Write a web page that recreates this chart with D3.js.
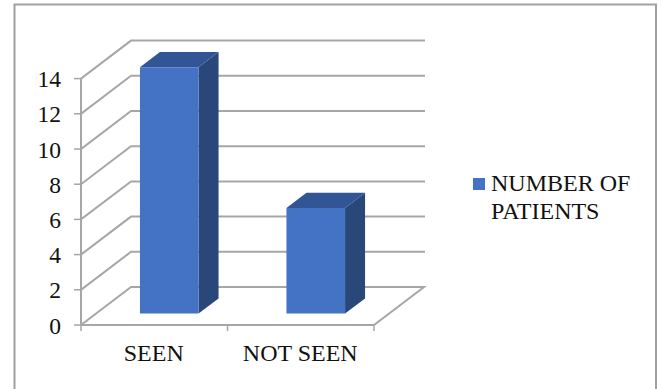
<!DOCTYPE html>
<html>
<head>
<meta charset="utf-8">
<script src="https://cdn.jsdelivr.net/npm/d3@7"></script>
<style>
html,body{margin:0;padding:0;background:#fff}
svg{display:block}
text{font-family:"Liberation Serif",serif;fill:#111}
</style>
</head>
<body>
<div id="chart"></div>
<script>
const categories = ["SEEN", "NOT SEEN"];
const patients = [14, 6];
const yTicks = [0, 2, 4, 6, 8, 10, 12, 14];
const seriesName = ["NUMBER OF", "PATIENTS"];

const width = 661, height = 389;
const svg = d3.select("#chart").append("svg").attr("width", width).attr("height", height);

// Chart frame, open at the lower edge of the page
svg.append("path")
  .attr("d", "M14.5,389V4.5H656V389")
  .attr("fill", "none").attr("stroke", "#a0a0a0").attr("stroke-width", 2);

const x = d3.scaleBand().domain(categories).range([81, 374]).paddingInner(0).paddingOuter(0);
const y = d3.scaleLinear().domain([0, 14]).range([325, 78.6]);

// Oblique projection of the depth axis: z runs 0 (front) to 1 (back wall)
const depthX = d3.scaleLinear().domain([0, 1]).range([0, 50]);
const depthY = d3.scaleLinear().domain([0, 1]).range([0, -38]);
const project = (px, value, z) => [px + depthX(z), y(value) + depthY(z)];
const line = d3.line();
const grid = "#a6a6a6";

// Floor outline
const [x0, x1] = x.range();
svg.append("path")
  .attr("d", line([project(x0, 0, 0), project(x0, 0, 1), project(x1, 0, 1), project(x1, 0, 0), project(x0, 0, 0)]))
  .attr("fill", "none").attr("stroke", grid).attr("stroke-width", 2);

// Gridlines wrapping the side wall and the back wall
svg.append("g").selectAll("path").data(yTicks.slice(1)).join("path")
  .attr("d", v => line([project(x0, v, 0), project(x0, v, 1), project(x1, v, 1)]))
  .attr("fill", "none").attr("stroke", grid).attr("stroke-width", 2).attr("stroke-linecap", "square");

// Value axis
const yAxis = svg.append("g");
yAxis.append("path")
  .attr("d", line([[x0, y(0)], [x0, y(14)]]))
  .attr("stroke", grid).attr("stroke-width", 2);
yAxis.selectAll("line").data(yTicks).join("line")
  .attr("x1", x0 - 7).attr("x2", x0)
  .attr("y1", d => y(d)).attr("y2", d => y(d))
  .attr("stroke", grid).attr("stroke-width", 1.5);
yAxis.selectAll("text").data(yTicks).join("text")
  .attr("x", 61).attr("y", d => y(d) + 8.5)
  .attr("text-anchor", "end").attr("font-size", 23.5)
  .text(d => d);

// Category axis
const xAxis = svg.append("g");
xAxis.selectAll("line").data([x0, x0 + x.bandwidth(), x1]).join("line")
  .attr("x1", d => d).attr("x2", d => d)
  .attr("y1", y(0)).attr("y2", y(0) + 6)
  .attr("stroke", grid).attr("stroke-width", 1.5);
xAxis.selectAll("text").data(categories).join("text")
  .attr("x", d => x(d) + x.bandwidth() / 2 - 0.5)
  .attr("y", 361)
  .attr("text-anchor", "middle").attr("font-size", 24)
  .text(d => d);

// 3D columns: front, top and side faces
const barWidth = x.bandwidth() * 0.4;
const zFront = 0.30, zBack = 0.70;
const bars = svg.append("g").selectAll("g")
  .data(categories.map((c, i) => ({ c, v: patients[i] })))
  .join("g");
const left = d => x(d.c) + (x.bandwidth() - barWidth) / 2;
const right = d => left(d) + barWidth;

bars.append("path").attr("fill", "#2a4779")
  .attr("d", d => line([project(right(d), 0, zFront), project(right(d), d.v, zFront), project(right(d), d.v, zBack), project(right(d), 0, zBack)]) + "Z");
bars.append("path").attr("fill", "#325596")
  .attr("d", d => line([project(left(d), d.v, zFront), project(left(d), d.v, zBack), project(right(d), d.v, zBack), project(right(d), d.v, zFront)]) + "Z");
bars.append("path").attr("fill", "#4472c4")
  .attr("d", d => line([project(left(d), 0, zFront), project(left(d), d.v, zFront), project(right(d), d.v, zFront), project(right(d), 0, zFront)]) + "Z");

// Legend
const legend = svg.append("g");
legend.append("rect").attr("x", 473).attr("y", 178).attr("width", 12).attr("height", 12).attr("fill", "#4472c4");
legend.selectAll("text").data(seriesName).join("text")
  .attr("x", 491).attr("y", (d, i) => 191 + i * 28)
  .attr("font-size", 24)
  .text(d => d);
</script>
</body>
</html>
